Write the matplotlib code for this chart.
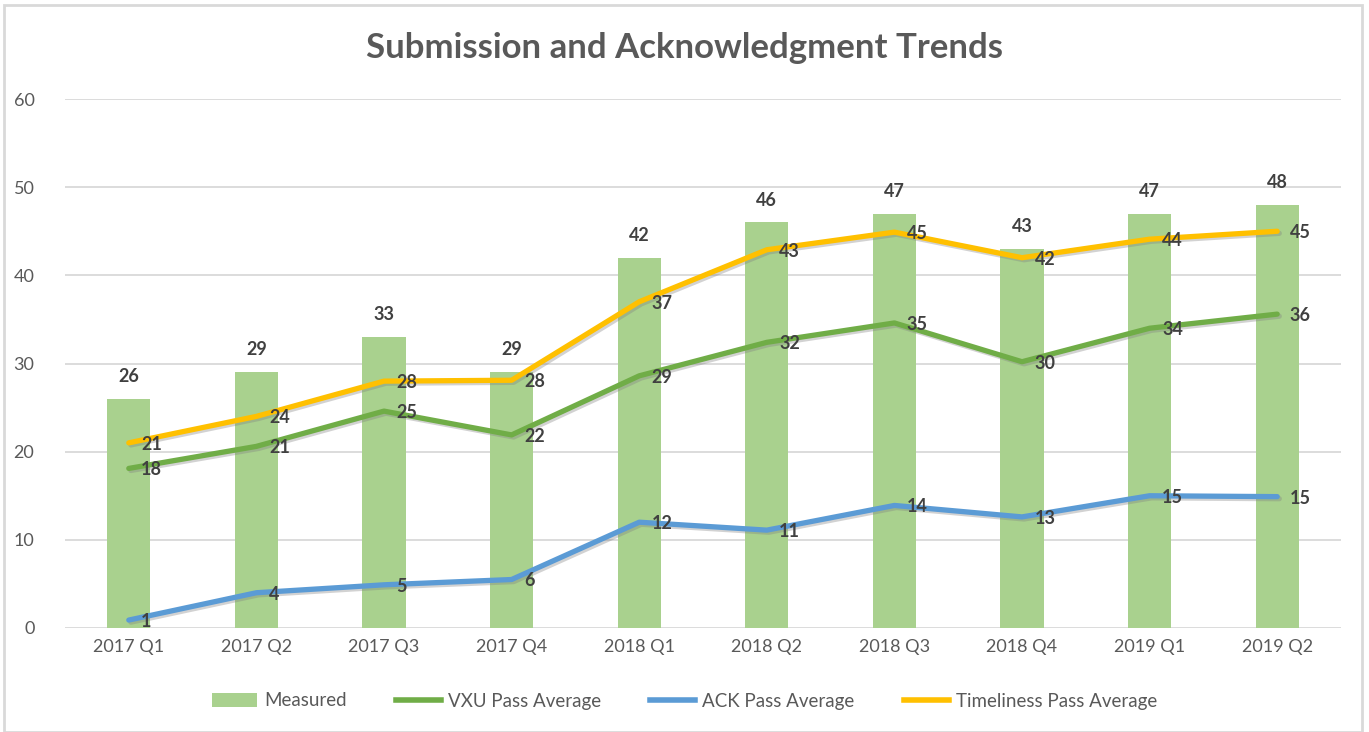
import matplotlib

matplotlib.use("Agg")
import matplotlib.pyplot as plt
import matplotlib.patheffects as pe
from matplotlib.lines import Line2D
from matplotlib.patches import Patch, Rectangle

# ---------------------------------------------------------------- data
quarters = ["2017 Q1", "2017 Q2", "2017 Q3", "2017 Q4", "2018 Q1",
            "2018 Q2", "2018 Q3", "2018 Q4", "2019 Q1", "2019 Q2"]
measured = [26, 29, 33, 29, 42, 46, 47, 43, 47, 48]
vxu_pass = [18.1, 20.6, 24.6, 21.9, 28.6, 32.4, 34.6, 30.2, 34.0, 35.6]
ack_pass = [0.9, 4.0, 4.9, 5.5, 12.0, 11.1, 13.9, 12.6, 15.0, 14.9]
timely_pass = [21.0, 24.0, 28.0, 28.1, 37.0, 42.9, 44.9, 42.0, 44.1, 45.0]

BAR = "#A9D18E"
GREEN = "#70AD47"
BLUE = "#5B9BD5"
GOLD = "#FFC000"
TXT = "#404040"
TICK = "#595959"
GRID = "#D9D9D9"

plt.rcParams["font.family"] = ["Lato", "DejaVu Sans"]

fig = plt.figure(figsize=(13.69, 7.32), dpi=100)
ax = fig.add_axes([65 / 1369, 1 - 628 / 732, 1276 / 1369, 529 / 732])

x = list(range(len(quarters)))
ax.bar(x, measured, width=0.34, color=BAR, zorder=2)
for xi, v in zip(x, measured):
    ax.annotate(f"{v:.0f}", (xi, v), xytext=(0, 10), textcoords="offset points",
                ha="center", va="bottom", fontsize=13, weight="bold", color=TXT)

shadow = [pe.SimpleLineShadow(offset=(1.5, -1.5), shadow_color="0.5", alpha=0.35),
          pe.Normal()]
for vals, col in ((vxu_pass, GREEN), (ack_pass, BLUE), (timely_pass, GOLD)):
    ax.plot(x, vals, color=col, lw=3.8, solid_joinstyle="round",
            solid_capstyle="round", zorder=3, path_effects=shadow)
    for xi, v in zip(x, vals):
        ax.annotate(f"{v:.0f}", (xi, v), xytext=(9, -1), textcoords="offset points",
                    ha="left", va="center", fontsize=13, weight="bold",
                    color=TXT, zorder=4)

ax.set_xlim(-0.5, len(quarters) - 0.5)
ax.set_ylim(0, 60)
ax.set_yticks(range(0, 61, 10))
ax.set_xticks(x)
ax.set_xticklabels(quarters)
ax.tick_params(length=0, labelsize=13, colors=TICK, pad=8)
ax.tick_params(axis="y", pad=22)
ax.grid(axis="y", color=GRID, lw=1.3, zorder=0)
for s in ax.spines.values():
    s.set_visible(False)

fig.text(0.5, 1 - 48 / 732, "Submission and Acknowledgment Trends", ha="center",
         va="center", fontsize=25, weight="bold", color=TICK)

handles = [Patch(facecolor=BAR, edgecolor="none"),
           Line2D([], [], color=GREEN, lw=4),
           Line2D([], [], color=BLUE, lw=4),
           Line2D([], [], color=GOLD, lw=4)]
labels = ["Measured", "VXU Pass Average", "ACK Pass Average",
          "Timeliness Pass Average"]
fig.legend(handles, labels, loc="center", bbox_to_anchor=(0.5, 1 - 701 / 732),
           ncol=4, frameon=False, fontsize=13.5, labelcolor=TICK,
           handlelength=2.4, columnspacing=2.6, handletextpad=0.4)

# light chart frame
fig.patches.append(Rectangle((0.003, 0.0), 0.992, 0.993, transform=fig.transFigure,
                             fill=False, edgecolor=GRID, lw=2))

fig.savefig("out.png", dpi=100)
